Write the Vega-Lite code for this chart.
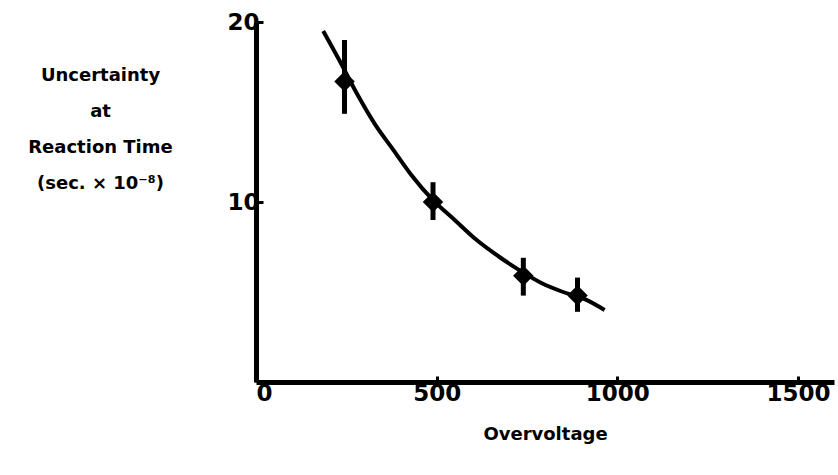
{
  "$schema": "https://vega.github.io/schema/vega-lite/v6.json",
  "width": 578,
  "height": 360,
  "autosize": "none",
  "padding": {"left": 256, "top": 22, "right": 4, "bottom": 93},
  "background": "white",
  "config": {"view": {"stroke": null}, "font": "DejaVu Sans"},
  "datasets": {
    "curve": [
      {"v": 186, "u": 19.5}, {"v": 230, "u": 17.9}, {"v": 280, "u": 16.0}, {"v": 330, "u": 14.3},
      {"v": 380, "u": 12.9}, {"v": 430, "u": 11.5}, {"v": 490, "u": 10.1}, {"v": 550, "u": 9.0},
      {"v": 610, "u": 7.9}, {"v": 670, "u": 7.0}, {"v": 730, "u": 6.2}, {"v": 790, "u": 5.5},
      {"v": 850, "u": 5.0}, {"v": 910, "u": 4.6}, {"v": 965, "u": 4.0}
    ],
    "pts": [
      {"v": 245, "u": 16.7, "lo": 14.9, "hi": 19.0},
      {"v": 490, "u": 10.0, "lo": 9.0, "hi": 11.1},
      {"v": 740, "u": 5.9, "lo": 4.8, "hi": 6.9},
      {"v": 890, "u": 4.8, "lo": 3.9, "hi": 5.8}
    ]
  },
  "layer": [
    {
      "data": {"name": "curve"},
      "mark": {"type": "line", "interpolate": "monotone", "color": "black", "strokeWidth": 4},
      "encoding": {
        "x": {"field": "v", "type": "quantitative", "scale": {"domain": [0, 1600], "nice": false},
          "axis": {"values": [0, 500, 1000, 1500], "format": "d", "title": "Overvoltage", "titleFontSize": 18, "titleFontWeight": "bold", "titlePadding": 20, "titleColor": "black",
            "labelFontSize": 23, "labelFontWeight": "bold", "labelColor": "black", "labelPadding": 6,
            "domainColor": "black", "domainWidth": 5, "tickColor": "black", "tickWidth": 3, "tickSize": -6, "grid": false}},
        "y": {"field": "u", "type": "quantitative", "scale": {"domain": [0, 20], "nice": false},
          "axis": {"values": [10, 20], "format": "d", "title": ["Uncertainty", "at", "Reaction Time", "(sec. × 10⁻⁸)"], "titleAngle": 0, "titleAlign": "center", "titleBaseline": "top",
            "titleX": -156, "titleY": 44, "titleFontSize": 18, "titleFontWeight": "bold", "titleColor": "black", "titleLineHeight": 36,
            "labelFontSize": 23, "labelFontWeight": "bold", "labelColor": "black", "labelPadding": 4,
            "domainColor": "black", "domainWidth": 5, "tickColor": "black", "tickWidth": 3, "tickSize": -7, "grid": false}}
      }
    },
    {
      "data": {"name": "pts"},
      "mark": {"type": "rule", "color": "black", "strokeWidth": 5},
      "encoding": {
        "x": {"field": "v", "type": "quantitative"},
        "y": {"field": "lo", "type": "quantitative"},
        "y2": {"field": "hi"}
      }
    },
    {
      "data": {"name": "pts"},
      "mark": {"type": "point", "shape": "diamond", "filled": true, "color": "black", "size": 420, "opacity": 1},
      "encoding": {
        "x": {"field": "v", "type": "quantitative"},
        "y": {"field": "u", "type": "quantitative"}
      }
    }
  ]
}
